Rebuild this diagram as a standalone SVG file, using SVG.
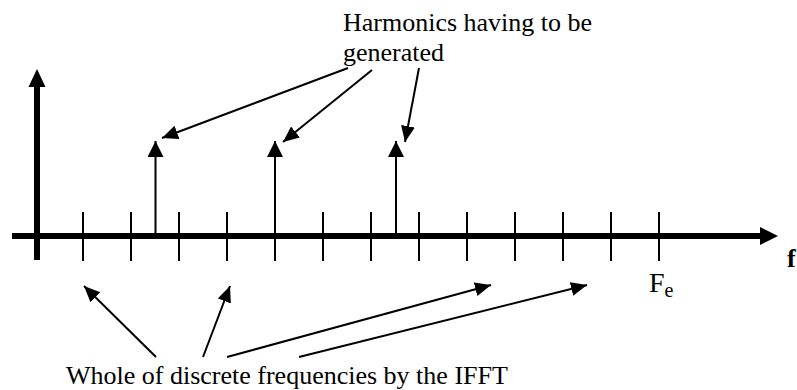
<svg xmlns="http://www.w3.org/2000/svg" width="797" height="390" viewBox="0 0 797 390">
  <defs>
    <style>
      text { font-family: 'Liberation Serif', 'Times New Roman', Times, serif; fill: #000; }
      .axis { stroke: #000; stroke-width: 6; fill: none; }
      .tick { stroke: #000; stroke-width: 2; fill: none; }
      .harm { stroke: #000; stroke-width: 2; fill: none; marker-end: url(#headH); }
      .conn { stroke: #000; stroke-width: 2; fill: none; marker-end: url(#headA); }
    </style>
    <marker id="headA" markerUnits="userSpaceOnUse" markerWidth="17" markerHeight="15" refX="16" refY="7" orient="auto" viewBox="0 0 17 15">
      <path d="M0,0 L16,7 L0,14 Z" fill="#000"/>
    </marker>
    <marker id="headH" markerUnits="userSpaceOnUse" markerWidth="17" markerHeight="17" refX="16" refY="8" orient="auto" viewBox="0 0 17 17">
      <path d="M0,0 L16,8 L0,16 Z" fill="#000"/>
    </marker>
  </defs>
  <rect width="797" height="390" fill="#fff"/>

  <g id="axes">
    <line class="axis" x1="37" y1="260" x2="37" y2="84"/>
    <polygon points="37,69 28.5,87 45.5,87" fill="#000"/>
    <line class="axis" x1="12" y1="236" x2="762" y2="236"/>
    <polygon points="778,236 760,227 760,245" fill="#000"/>
  </g>

  <g id="ticks">
    <line class="tick" x1="83" y1="212" x2="83" y2="261"/>
    <line class="tick" x1="131" y1="212" x2="131" y2="261"/>
    <line class="tick" x1="179" y1="212" x2="179" y2="261"/>
    <line class="tick" x1="227" y1="212" x2="227" y2="261"/>
    <line class="tick" x1="275" y1="212" x2="275" y2="261"/>
    <line class="tick" x1="323" y1="212" x2="323" y2="261"/>
    <line class="tick" x1="371" y1="212" x2="371" y2="261"/>
    <line class="tick" x1="419" y1="212" x2="419" y2="261"/>
    <line class="tick" x1="467" y1="212" x2="467" y2="261"/>
    <line class="tick" x1="515" y1="212" x2="515" y2="261"/>
    <line class="tick" x1="563" y1="212" x2="563" y2="261"/>
    <line class="tick" x1="611" y1="212" x2="611" y2="261"/>
    <line class="tick" x1="659" y1="212" x2="659" y2="261"/>
  </g>

  <g id="harmonics">
    <line class="harm" x1="155.5" y1="236" x2="155.5" y2="141"/>
    <line class="harm" x1="275" y1="236" x2="275" y2="141"/>
    <line class="harm" x1="396" y1="236" x2="396" y2="141"/>
  </g>

  <g id="label-harmonics" font-family="'Liberation Serif', serif">
    <text x="343" y="31" font-size="26">Harmonics having to be</text>
    <text x="343" y="61" font-size="26">generated</text>
  </g>

  <g id="label-whole" font-family="'Liberation Serif', serif">
    <text x="66" y="384" font-size="26">Whole of discrete frequencies by the IFFT</text>
  </g>

  <g id="label-f" font-family="'Liberation Serif', serif">
    <text x="787" y="267" font-size="26" font-weight="bold">f</text>
  </g>

  <g id="label-fe" font-family="'Liberation Serif', serif">
    <text x="649" y="292" font-size="28">F<tspan font-size="20" dy="5">e</tspan></text>
  </g>

  <g id="connectors">
    <line class="conn" x1="348" y1="68" x2="162" y2="138"/>
    <line class="conn" x1="372" y1="70" x2="283" y2="142"/>
    <line class="conn" x1="419" y1="68" x2="405" y2="142"/>
    <line class="conn" x1="156" y1="357" x2="84" y2="286"/>
    <line class="conn" x1="203" y1="357" x2="230" y2="286"/>
    <line class="conn" x1="227" y1="357" x2="491" y2="285"/>
    <line class="conn" x1="299" y1="357" x2="587" y2="285"/>
  </g>
</svg>
